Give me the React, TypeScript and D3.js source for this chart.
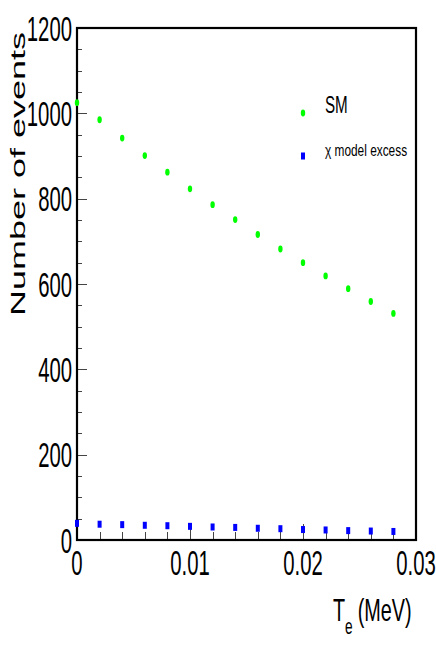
import React from "react";
import * as d3 from "d3";

const energies = [0, 0.002, 0.004, 0.006, 0.008, 0.01, 0.012, 0.014, 0.016, 0.018, 0.02, 0.022, 0.024, 0.026, 0.028];
const smEvents = [1025, 985, 942, 901, 862, 823, 786, 751, 716, 682, 650, 619, 589, 559, 531];
const chiExcess = [39, 37, 36, 34.5, 33.5, 32, 30.5, 29.5, 27.5, 26.5, 24.5, 23.5, 22, 21, 20];
const xTickValues = [0, 0.01, 0.02, 0.03];
const xTickLabels = ["0", "0.01", "0.02", "0.03"];
const yTickValues = [0, 200, 400, 600, 800, 1000, 1200];
const yTickLabels = ["0", "200", "400", "600", "800", "1000", "1200"];
const legendLabels = ["SM", "\u03c7 model excess"];

const W = 436;
const H = 654;
const L = 77, R = 416, T = 28, B = 540;
const FONT = "'Liberation Sans', Arial, Helvetica, sans-serif";

export default function App() {
  const x = d3.scaleLinear().domain([0, 0.03]).range([L, R]);
  const y = d3.scaleLinear().domain([0, 1200]).range([B, T]);
  const xMinor = d3.range(0, 0.0301, 0.002);
  const yMinor = d3.range(0, 1201, 50);

  return (
    <svg width={W} height={H} style={{ position: "fixed", left: 0, top: 0, background: "#fff" }} fontFamily={FONT}>
      <rect x={0} y={0} width={W} height={H} fill="#fff" />
      {/* x ticks */}
      {xMinor.map((v, i) => {
        const major = xTickValues.some((m) => Math.abs(m - v) < 1e-9);
        const px = Math.round(x(v)) + 0.5;
        return <line key={"xt" + i} x1={px} x2={px} y1={B} y2={B - (major ? 16 : 8)} stroke="#444" strokeWidth={1} />;
      })}
      {/* y ticks */}
      {yMinor.map((v, i) => {
        const major = v % 200 === 0;
        const py = Math.round(y(v)) + 0.5;
        return <line key={"yt" + i} x1={L} x2={L + (major ? 10 : 5)} y1={py} y2={py} stroke="#444" strokeWidth={1} />;
      })}
      {/* frame */}
      <rect x={L} y={T} width={R - L} height={B - T} fill="none" stroke="#000" strokeWidth={2.2} />
      {/* x tick labels */}
      {xTickValues.map((v, i) => (
        <text key={"xl" + i} transform={`translate(${x(v)},575) scale(0.58,1)`} textAnchor="middle" fontSize={35} fill="#000">
          {xTickLabels[i]}
        </text>
      ))}
      {/* y tick labels */}
      {yTickValues.map((v, i) => (
        <text key={"yl" + i} transform={`translate(72,${y(v) + 12.5}) scale(0.58,1)`} textAnchor="end" fontSize={35} fill="#000">
          {yTickLabels[i]}
        </text>
      ))}
      {/* y title */}
      <text transform="translate(24.5,174) scale(0.55,1) rotate(-90)" textAnchor="middle" fontSize={36} fill="#000">
        Number of events
      </text>
      {/* x title */}
      <text transform="translate(333,621) scale(0.62,1)" fontSize={32} fill="#000">
        T
        <tspan fontSize={22} dy={13}>e</tspan>
        <tspan dy={-13} dx={8}>(MeV)</tspan>
      </text>
      {/* data: SM */}
      {energies.map((e, i) => (
        <ellipse key={"sm" + i} cx={x(e)} cy={y(smEvents[i])} rx={2.2} ry={3.4} fill="#00ff00" />
      ))}
      {/* data: chi excess */}
      {energies.map((e, i) => (
        <rect key={"ch" + i} x={x(e) - 2} y={y(chiExcess[i]) - 3.5} width={4} height={7} fill="#0000ff" />
      ))}
      {/* legend */}
      <ellipse cx={303} cy={113} rx={2.2} ry={3.4} fill="#00ff00" />
      <text transform="translate(325,113) scale(0.66,1)" fontSize={23} fill="#000">{legendLabels[0]}</text>
      <rect x={301} y={152.5} width={4} height={7} fill="#0000ff" />
      <text transform="translate(325,156) scale(0.72,1)" fontSize={16.5} fill="#000">{legendLabels[1]}</text>
    </svg>
  );
}
